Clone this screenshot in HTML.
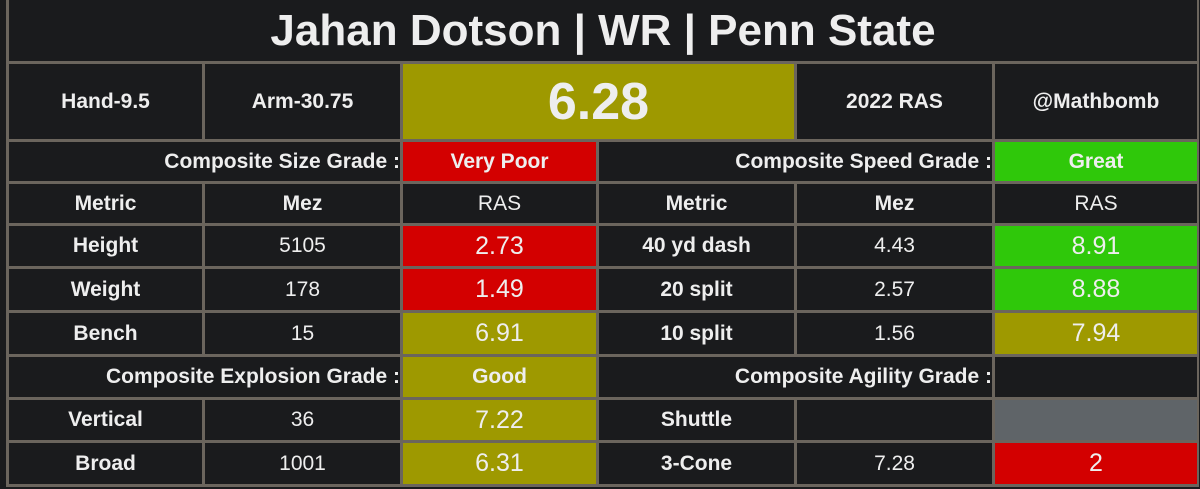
<!DOCTYPE html><html><head><style>
body{margin:0;width:1200px;height:489px;background:#1a1b1d;position:relative;overflow:hidden;font-family:"Liberation Sans",sans-serif;color:#eee}
.c{position:absolute;display:flex;align-items:center;justify-content:center;background:#1a1b1d;font-weight:bold;font-size:21px}
.n{font-weight:normal;font-size:25px}
.m{font-weight:normal;font-size:21px}
.r{background:#d30000}.g{background:#2fc80a}.y{background:#9e9900}.gr{background:#5f6468}
#grid{position:absolute;left:6px;top:-1px;width:1193px;height:488px;background:#6b655d}
</style></head><body>
<div id="grid"></div>
<div class="c" style="left:9px;top:0;width:1188px;height:61px;font-size:44px">Jahan Dotson | WR | Penn State</div>
<div id="cells"></div>
<script>
const xs=[9,205,403,599,797,995,1197];
const ys=[64,142,184,226,269,313,357,400,443,484];
const rows=[
 [["Hand-9.5",1],["Arm-30.75",1],["6.28",2,"y","font-size:52px"],["2022 RAS",1],["@Mathbomb",1]],
 [["Composite Size Grade :",2,"","justify-content:flex-end"],["Very Poor",1,"r"],["Composite Speed Grade :",2,"","justify-content:flex-end"],["Great",1,"g"]],
 [["Metric",1],["Mez",1],["RAS",1,"","font-weight:normal"],["Metric",1],["Mez",1],["RAS",1,"","font-weight:normal"]],
 [["Height",1],["5105",1,"m"],["2.73",1,"r n"],["40 yd dash",1],["4.43",1,"m"],["8.91",1,"g n"]],
 [["Weight",1],["178",1,"m"],["1.49",1,"r n"],["20 split",1],["2.57",1,"m"],["8.88",1,"g n"]],
 [["Bench",1],["15",1,"m"],["6.91",1,"y n"],["10 split",1],["1.56",1,"m"],["7.94",1,"y n"]],
 [["Composite Explosion Grade :",2,"","justify-content:flex-end"],["Good",1,"y"],["Composite Agility Grade :",2,"","justify-content:flex-end"],["",1]],
 [["Vertical",1],["36",1,"m"],["7.22",1,"y n"],["Shuttle",1],["",1],["",1,"gr"]],
 [["Broad",1],["1001",1,"m"],["6.31",1,"y n"],["3-Cone",1],["7.28",1,"m"],["2",1,"r n"]]];
let h="";
rows.forEach((r,i)=>{let ci=0;r.forEach(c=>{const x0=xs[ci],x1=xs[ci+c[1]]-(ci+c[1]<6?3:0);
h+=`<div class="c ${c[2]||""}" style="left:${x0}px;top:${ys[i]}px;width:${x1-x0}px;height:${ys[i+1]-ys[i]-(i<8?3:0)}px;${c[3]||""}">${c[0]}</div>`;ci+=c[1];});});
document.getElementById("cells").innerHTML=h;
</script>
</body></html>
